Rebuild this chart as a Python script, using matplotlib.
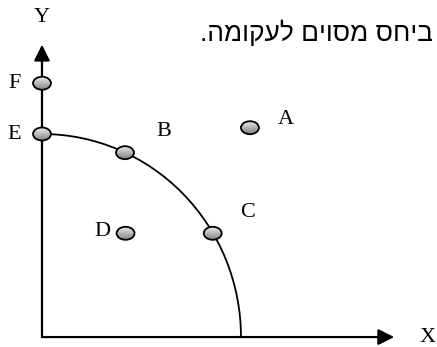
import matplotlib.pyplot as plt
import numpy as np
from matplotlib.patches import Ellipse, Arc

# points (x, y) in the chart's own units, frontier radius = 10
point_names = ['A', 'B', 'C', 'D', 'E', 'F']
point_x = [10.45, 4.17, 8.58, 4.2, 0.0, 0.0]
point_y = [10.31, 9.08, 5.11, 5.11, 10.0, 12.5]
frontier_x = 10.0
frontier_y = 10.0
axis_x_end = 17.7
axis_y_end = 14.4
caption = 'ביחס מסוים לעקומה.'

# label offsets in points
label_offsets = {
    'A': (26, 6),
    'B': (28, 15),
    'C': (25, 15),
    'D': (-17, 1),
    'E': (-20, 0),
    'F': (-20, 0),
}


def draw_marker(ax, x, y, w, h):
    ell = Ellipse((x, y), w, h, facecolor='none', edgecolor='black', lw=1.3, zorder=4)
    ax.add_patch(ell)
    grad = np.linspace(0.92, 0.5, 64).reshape(-1, 1)
    img = ax.imshow(grad, cmap='gray', vmin=0, vmax=1,
                    extent=(x - w / 2, x + w / 2, y - h / 2, y + h / 2),
                    origin='upper', aspect='auto', zorder=3, interpolation='bilinear')
    img.set_clip_path(ell)


def create_graph():
    fig = plt.figure(figsize=(4.37, 3.47), dpi=100)
    ax = fig.add_axes([0, 0, 1, 1])
    ax.set_xlim(-2.11, 19.85)
    ax.set_ylim(-0.49, 16.6)
    ax.axis('off')

    arrow = dict(arrowstyle='-|>,head_length=0.8,head_width=0.4', mutation_scale=12,
                 lw=1.6, color='black', shrinkA=0, shrinkB=0)
    ax.annotate('', xy=(axis_x_end, 0), xytext=(0, 0), arrowprops=arrow)
    ax.annotate('', xy=(0, axis_y_end), xytext=(0, 0), arrowprops=arrow)

    ax.add_patch(Arc((0, 0), 2 * frontier_x, 2 * frontier_y, theta1=0, theta2=90,
                     lw=1.3, color='black', zorder=2))

    serif = dict(family='Liberation Serif', fontsize=16, ha='center', va='center')
    ax.annotate('Y', xy=(0, axis_y_end), xytext=(0, 19.5), textcoords='offset points', **serif)
    ax.annotate('X', xy=(axis_x_end, 0), xytext=(24, 0), textcoords='offset points', **serif)

    for name, x, y in zip(point_names, point_x, point_y):
        draw_marker(ax, x, y, 0.9, 0.64)
        ax.annotate(name, xy=(x, y), xytext=label_offsets[name],
                    textcoords='offset points', **serif)

    # matplotlib has no bidi, so write the hebrew in visual order
    fig.text(0.99, 0.905, caption[::-1], ha='right', va='center', fontsize=19,
             family=['Liberation Sans', 'DejaVu Sans'])

    fig.savefig('out.png', dpi=100)


if __name__ == '__main__':
    create_graph()
